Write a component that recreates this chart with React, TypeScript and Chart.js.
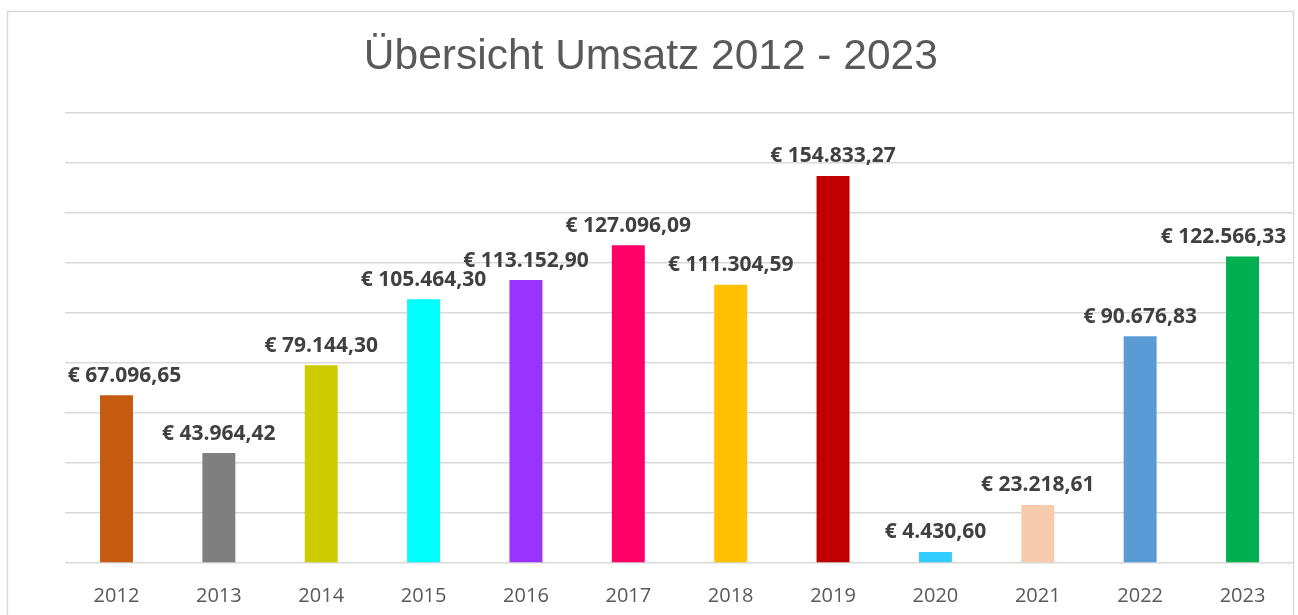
import React, { useEffect, useRef } from "react";
import { Chart, registerables } from "chart.js";

Chart.register(...registerables);

const years = ["2012", "2013", "2014", "2015", "2016", "2017", "2018", "2019", "2020", "2021", "2022", "2023"];
const revenue = [67096.65, 43964.42, 79144.3, 105464.3, 113152.9, 127096.09, 111304.59, 154833.27, 4430.6, 23218.61, 90676.83, 122566.33];
const barColors = [
  "#C55A11", "#7F7F7F", "#CCCC00", "#00FFFF", "#9933FF", "#FF0066",
  "#FFC000", "#C00000", "#33CCFF", "#F8CBAD", "#5B9BD5", "#00B050",
];
const titleText = "Übersicht Umsatz 2012 - 2023";
const yMax = 180000;
const yStep = 20000;

function formatEuro(v: number): string {
  const [intPart, dec] = v.toFixed(2).split(".");
  const grouped = intPart.replace(/\B(?=(\d{3})+(?!\d))/g, ".");
  return "€ " + grouped + "," + dec;
}

const frameAndLabels = {
  id: "frameAndLabels",
  beforeDraw(chart: any) {
    const ctx = chart.ctx;
    ctx.save();
    ctx.strokeStyle = "#D9D9D9";
    ctx.lineWidth = 1.5;
    ctx.strokeRect(7.5, 11.5, 1286, 700);
    ctx.restore();
  },
  afterDatasetsDraw(chart: any) {
    const ctx = chart.ctx;
    const meta = chart.getDatasetMeta(0);
    const area = chart.chartArea;
    ctx.save();
    ctx.font = "bold 21px 'Open Sans'";
    ctx.fillStyle = "#404040";
    ctx.textBaseline = "alphabetic";
    ctx.textAlign = "left";
    meta.data.forEach((bar: any, i: number) => {
      const txt = formatEuro(revenue[i]);
      const w = ctx.measureText(txt).width;
      let x = bar.x - w / 2;
      if (x < area.left + 2.5) x = area.left + 2.5;
      if (x + w > area.right - 7.5) x = area.right - 7.5 - w;
      ctx.fillText(txt, x, bar.y - 13.5);
    });
    ctx.restore();
  },
};

export default function App() {
  const canvasRef = useRef<HTMLCanvasElement | null>(null);

  useEffect(() => {
    if (!canvasRef.current) return;
    const chart = new Chart(canvasRef.current, {
      type: "bar",
      data: {
        labels: years,
        datasets: [
          {
            data: revenue,
            backgroundColor: barColors,
            borderWidth: 0,
            barPercentage: 0.322,
            categoryPercentage: 1,
          },
        ],
      },
      options: {
        animation: false,
        responsive: false,
        maintainAspectRatio: false,
        layout: { padding: { left: 8, right: 4.3, top: 0, bottom: 8 } },
        plugins: {
          legend: { display: false },
          tooltip: { enabled: false },
          title: {
            display: true,
            text: titleText,
            color: "#595959",
            font: { family: "'Liberation Sans', Arial, sans-serif", size: 42.5, weight: "normal", lineHeight: 1.2 },
            padding: { top: 32, bottom: 30 },
          },
        },
        scales: {
          x: {
            grid: { display: false, drawTicks: false },
            border: { display: false },
            ticks: {
              color: "#595959",
              font: { family: "'Open Sans', sans-serif", size: 20 },
              padding: 21,
              maxRotation: 0,
            },
            afterFit: (s: any) => {
              s.height = 44;
            },
          },
          y: {
            min: 0,
            max: yMax,
            grid: { color: "#D9D9D9", lineWidth: 1.4, drawTicks: false },
            border: { display: false },
            ticks: { display: false, stepSize: yStep },
            afterFit: (s: any) => {
              s.width = 57.3;
            },
          },
        },
      },
      plugins: [frameAndLabels],
    });
    return () => chart.destroy();
  }, []);

  return (
    <div style={{ position: "absolute", left: 0, top: 0, width: 1298, height: 615, background: "#fff" }}>
      <canvas ref={canvasRef} width={1298} height={615} style={{ display: "block", width: 1298, height: 615 }} />
    </div>
  );
}
